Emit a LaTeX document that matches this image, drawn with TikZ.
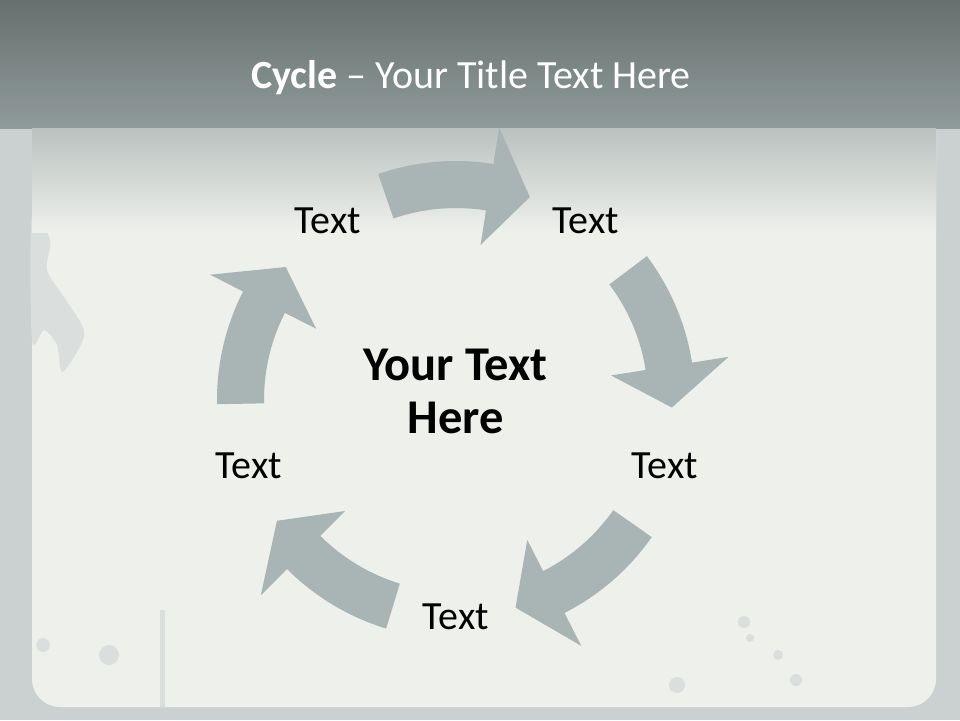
\documentclass[tikz,border=0pt]{standalone}
\usepackage{fontspec}
\setmainfont{Carlito}
\usetikzlibrary{positioning}
\definecolor{hdrtop}{HTML}{66716F}
\definecolor{hdrbot}{HTML}{8F9B9A}
\definecolor{panel}{HTML}{EEF0EC}
\definecolor{edgegray}{HTML}{CBD1D1}
\definecolor{stain}{HTML}{DADFDE}
\definecolor{arrowgray}{HTML}{A9B5B5}
% one block arrow of the cycle, turned by #1 degrees round (c)
\def\cycarrow#1{\fill[arrowfill, shift={(c)}, rotate=#1]
  (109:239pt) arc[start angle=109, end angle=81, radius=239pt]
  -- (81:276pt) -- (70:216pt) -- (81:157pt) -- (81:192pt)
  arc[start angle=81, end angle=109, radius=192pt] -- cycle;}

\begin{document}
\begin{tikzpicture}[arrowfill/.style={fill=arrowgray}, cyclabel/.style={anchor=base, inner sep=0pt, font=\fontsize{40pt}{48pt}\selectfont}, titletext/.style={anchor=base, inner sep=0pt, text=white, font=\fontsize{40pt}{48pt}\selectfont}, centertext/.style={align=center, inner sep=0pt, font=\fontsize{48.5pt}{53pt}\selectfont\bfseries}]
\useasboundingbox (0pt, 0pt) rectangle (960pt, -720pt);
% background
\fill[edgegray] (0pt, 0pt) rectangle (960pt, -720pt);
\fill[panel, rounded corners=28pt] (32pt, -60pt) rectangle (936pt, -707pt);
\fill[stain] plot[smooth cycle] coordinates {(32pt, -215pt) (50pt, -240pt) (47pt, -270pt) (66pt, -300pt) (84pt, -330pt) (78pt, -350pt) (62pt, -372pt) (57pt, -345pt) (44pt, -330pt) (32pt, -340pt)};
\fill[stain] (160pt, -610pt) rectangle (165pt, -707pt);
\fill[stain] (43pt, -645pt) circle (7pt);
\fill[stain] (109pt, -655pt) circle (10pt);
\fill[stain] (744pt, -622pt) circle (6pt);
\fill[stain] (750pt, -638pt) circle (4pt);
\fill[stain] (778pt, -655pt) circle (5pt);
\fill[stain] (677pt, -685pt) circle (8pt);
\fill[stain] (796pt, -680pt) circle (6pt);
\shade[top color=hdrtop, bottom color=hdrbot] (0pt, 0pt) rectangle (960pt, -128pt);
\shade[top color=hdrbot!55!panel, bottom color=panel] (32pt, -128pt) rectangle (936pt, -232pt);
% title
\draw (471pt, -88pt) node[titletext](title){\textbf{Cycle} – Your Title Text Here};
% arrows
\coordinate (c) at (456pt, -400pt);
\cycarrow{0}
\cycarrow{-72}
\cycarrow{-144}
\cycarrow{-216}
\cycarrow{-288}
% labels
\draw (328pt, -233pt) node[cyclabel](t1){Text};
\draw (586pt, -233pt) node[cyclabel](t2){Text};
\draw (665pt, -478pt) node[cyclabel](t3){Text};
\draw (456pt, -629pt) node[cyclabel](t4){Text};
\draw (249pt, -478pt) node[cyclabel](t5){Text};
\draw (455.5pt, -391pt) node[centertext](mid){Your Text\\Here};
\end{tikzpicture}
\end{document}
